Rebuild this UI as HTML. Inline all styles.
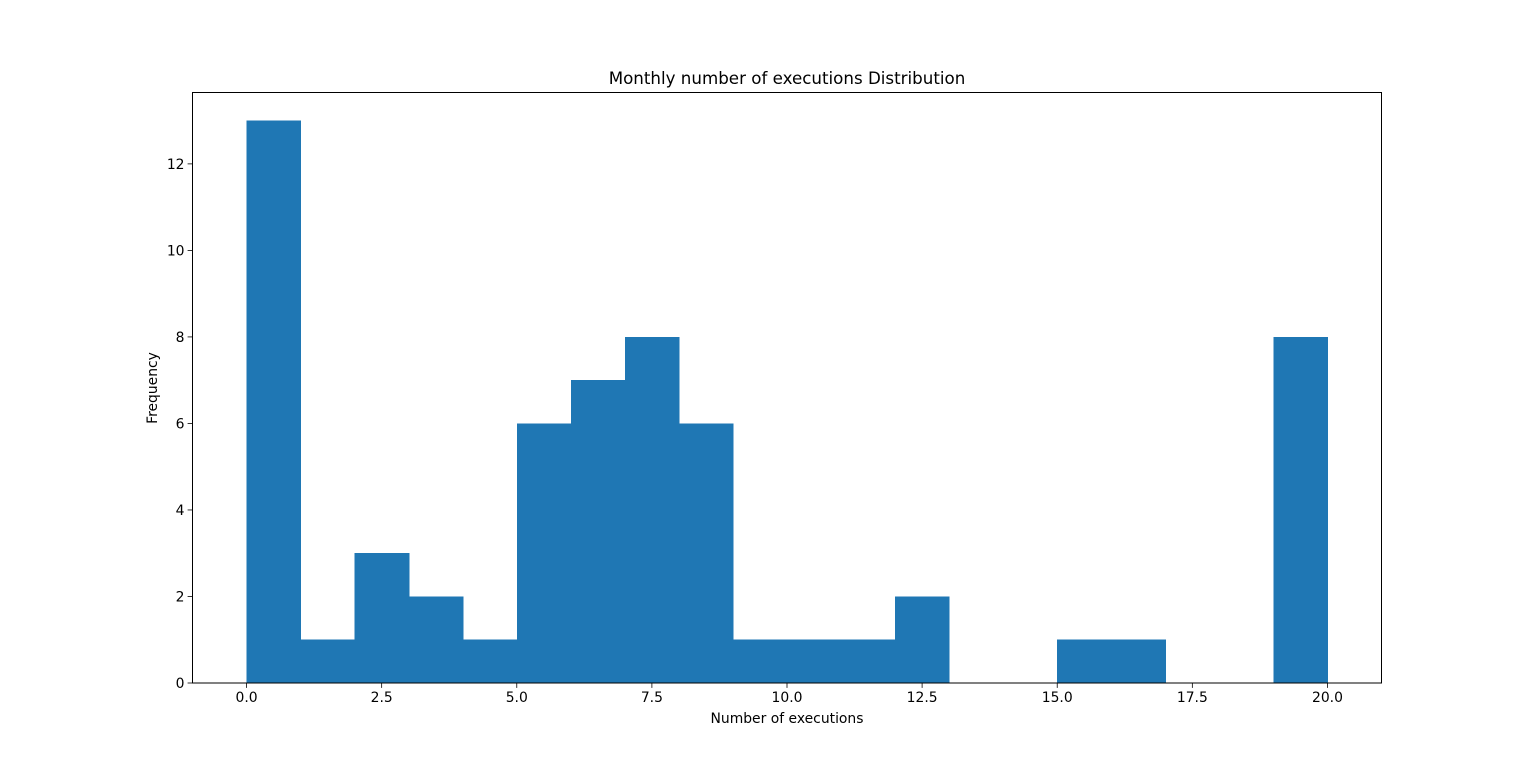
<!DOCTYPE html>
<html><head><meta charset="utf-8"><style>
html,body{margin:0;padding:0;background:#fff;}
svg text{font-family:"DejaVu Sans","Liberation Sans",sans-serif;fill:#000;}
</style></head><body>
<svg id="chart" width="1536" height="767" viewBox="0 0 1536 767" xmlns="http://www.w3.org/2000/svg">
<rect x="0" y="0" width="1536" height="767" fill="#fff"/>
<text x="787" y="84" font-size="16.7" text-anchor="middle">Monthly number of executions Distribution</text>
<text x="787" y="723" font-size="13.9" text-anchor="middle">Number of executions</text>
<text transform="translate(157,388) rotate(-90)" font-size="13.9" text-anchor="middle">Frequency</text>
<g id="bars" shape-rendering="crispEdges"></g><g id="xt"></g><g id="yt"></g>
<rect x="192.5" y="92.5" width="1189" height="590.5" fill="none" stroke="#000" stroke-width="1"/>
</svg>
<script>
const binEdges = [0,1,2,3,4,5,6,7,8,9,10,11,12,13,14,15,16,17,18,19,20];
const counts = [13,1,3,2,1,6,7,8,6,1,1,1,2,0,0,1,1,0,0,8];
const xTicks = [0,2.5,5,7.5,10,12.5,15,17.5,20];
const xTickLabels = ["0.0","2.5","5.0","7.5","10.0","12.5","15.0","17.5","20.0"];
const yTicks = [0,2,4,6,8,10,12];
const L=192.5,R=1381.5,T=92.5,B=683;
const xMin=-1,xMax=21,yMax=13.65;
const sx=v=>L+(v-xMin)/(xMax-xMin)*(R-L);
const sy=v=>B-v/yMax*(B-T);
const NS="http://www.w3.org/2000/svg";
function mk(t,a,p){const e=document.createElementNS(NS,t);for(const k in a)e.setAttribute(k,a[k]);p.appendChild(e);return e;}
const bars=document.getElementById('bars');
counts.forEach((c,i)=>{if(c<=0)return;
 const r=mk('rect',{x:sx(binEdges[i]),y:sy(c),width:sx(binEdges[i+1])-sx(binEdges[i])+0.6,height:B-sy(c),fill:'#1f77b4'},bars);
 
 });
const xt=document.getElementById('xt');
xTicks.forEach((v,i)=>{const x=sx(v);
 const l=mk('line',{x1:x,x2:x,y1:B,y2:B+4.9,stroke:'#000','stroke-width':0.8},xt);
 
 
 const t=mk('text',{x:x,y:B+19,'font-size':13.9,'text-anchor':'middle'},xt);t.textContent=xTickLabels[i];
 
 });
const yt=document.getElementById('yt');
yTicks.forEach(v=>{const y=sy(v);
 const l=mk('line',{x1:L-4.9,x2:L,y1:y,y2:y,stroke:'#000','stroke-width':0.8},yt);
 
 
 const t=mk('text',{x:L-8,y:y+5,'font-size':13.9,'text-anchor':'end'},yt);t.textContent=String(v);
 
 });
</script>
</body></html>
